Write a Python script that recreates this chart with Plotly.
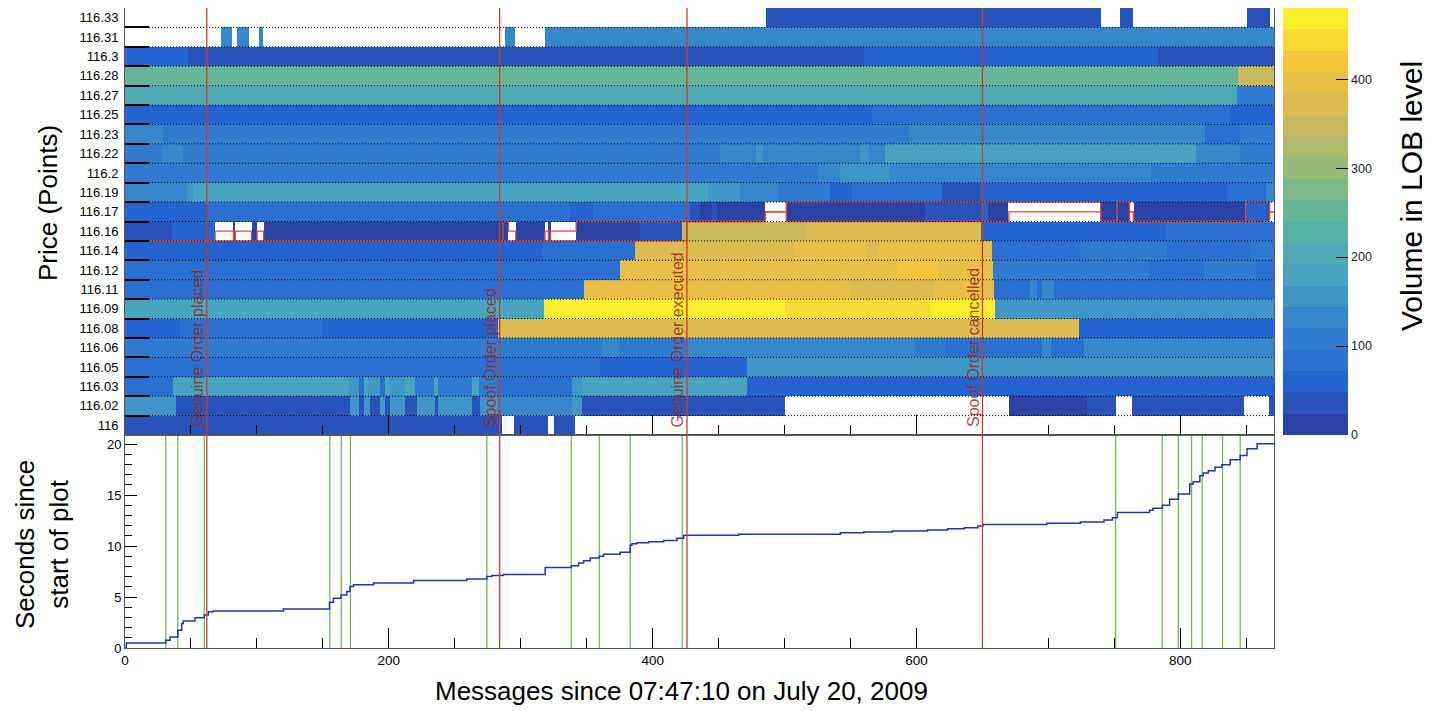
import numpy as np
import plotly.graph_objects as go
from bisect import bisect_right

# ---------------- data ----------------
price_labels = ["116", "116.02", "116.03", "116.05", "116.06", "116.08", "116.09",
                "116.11", "116.12", "116.14", "116.16", "116.17", "116.19", "116.2",
                "116.22", "116.23", "116.25", "116.27", "116.28", "116.3", "116.31", "116.33"]
N_MSG = 871

# volume per price level: (first message, volume) ; None = empty level
lvl_11600 = [(0, 40), (285.7, None), (294.5, 40), (321, None), (324.9, 40), (341.3, None)]
lvl_11602 = [(0, 150), (38.6, 40), (170.6, 150), (177.7, 40), (181.5, 150), (186, 40), (193.4, 150),
             (197.2, 40), (201, 150), (212.4, 40), (221.2, 150), (235.1, 40), (237.6, 150), (263, 40),
             (269, 150), (282, 130), (338.8, 150), (346.4, 40), (500.6, None), (670, 12), (729.4, 40),
             (750.9, None), (763.6, 40), (848.2, None), (867, 40)]
lvl_11603 = [(0, 85), (36.6, 180), (170.1, 150), (177.7, 90), (181.5, 180), (184.5, 150), (193.4, 90),
             (197.2, 180), (201, 150), (212.4, 180), (220, 105), (234, 180), (237.6, 105), (263, 180),
             (268, 105), (282, 85), (338.8, 150), (346.4, 180), (471.5, 62)]
lvl_11605 = [(0, 85), (360, 60), (471.5, 150)]
lvl_11606 = [(0, 105), (361.5, 120), (374.2, 105), (426, 120), (599, 105), (621.6, 80), (695.2, 120),
             (701.6, 90), (726.8, 125)]
lvl_11608 = [(0, 62), (41.7, 80), (149.2, 62), (283.1, 365), (723, 62)]
lvl_11609 = [(0, 190), (41.7, 168), (244, 180), (317.3, 465), (500.6, 440), (610.5, 475), (659.8, 150),
             (715, 165), (728, 150)]
lvl_11611 = [(0, 85), (347.6, 390), (550, 368), (613, 395), (658.5, 80), (686.4, 120), (691.5, 80),
             (695.2, 120), (704, 88)]
lvl_11612 = [(0, 85), (375.4, 395), (585.3, 425), (616.1, 405), (658.1, 105), (776.1, 80), (817.8, 105),
             (857, 80)]
lvl_11614 = [(0, 62), (316, 84), (386.8, 365), (506.9, 395), (562.5, 370), (571.3, 405), (657.3, 80),
             (724.3, 100), (790, 80), (853.2, 100)]
lvl_11616 = [(0, 40), (35.5, 62), (68.3, None), (82.2, 12), (83.6, None), (95.9, 12), (100.1, None),
             (105.1, 12), (290.7, None), (296.2, 12), (318.3, None), (321, 12), (322.6, None), (342, 12),
             (390.6, 40), (422.2, 350), (517, 370), (649, 62), (789, 80)]
lvl_11617 = [(0, 62), (62, 88), (337.5, 62), (355, 85), (426, 88), (428.5, 40), (436, 12), (445, 40),
             (448.7, 12), (485.4, None), (501.3, 12), (606.7, 40), (649.7, 62), (654.5, 12), (669.7, None),
             (739.5, 12), (761.5, None), (764.5, 12), (849.5, 62), (864.6, 40), (867.7, None)]
lvl_11619 = [(0, 130), (46.8, 150), (51.3, 175), (442, 150), (466, 125), (495, 105), (534.7, 62),
             (551, 80), (619, 40), (648.5, 62), (835.5, 84), (864.6, 125)]
lvl_11620 = [(0, 105), (525.6, 125), (542.3, 150), (580, 125), (777.4, 105)]
lvl_11622 = [(0, 105), (27.8, 125), (43.8, 105), (451, 130), (478, 150), (484, 140), (557.5, 165),
             (564, 140), (576, 175), (811.5, 130), (845.6, 105)]
lvl_11623 = [(0, 125), (29, 105), (509, 118), (594, 125), (819, 84), (845.6, 105)]
lvl_11625 = [(0, 62), (566, 76), (838, 55)]
lvl_11627 = [(0, 215), (843, 105)]
lvl_11628 = [(0, 245), (844, 350)]
lvl_11630 = [(0, 60), (48, 40), (560, 60), (782.7, 40)]
lvl_11631 = [(0, None), (72.6, 125), (80.9, None), (84.7, 125), (94.3, None), (101.9, 125), (104.9, None),
             (288.2, 125), (295.8, None), (318.5, 125)]
lvl_11633 = [(0, None), (485.9, 40), (739.7, None), (753.9, 40), (764.2, None), (850.2, 40), (867.7, None)]

# best bid / best ask outline (message, level index)
bid_msg = [0, 426, 485.5, 501.3, 670, 739.6, 761.5, 764.5, 867.7, 871]
bid_lvl = [9.5, 10.5, 11.0, 10.5, 11.0, 10.5, 11.0, 10.5, 11.0, 11.0]
ask_msg = [0, 68.3, 82.2, 83.6, 95.9, 100.1, 105.1, 286.5, 290.7, 296.2, 318.3, 321, 322.6, 342,
           485.5, 501.3, 739.6, 752, 761.5, 764.5, 849.5, 867.7, 871]
ask_lvl = [9.5, 10.0, 9.5, 10.0, 9.5, 10.0, 9.5, 10.5, 10.0, 9.5, 10.0, 9.5, 10.0, 10.5,
           11.0, 11.5, 10.5, 11.5, 11.0, 10.5, 11.5, 11.0, 11.0]

# events
event_msgs = [62, 284, 426, 650]
event_labels = ["Genuine Order placed", "Spoof Order placed", "Genuine Order executed", "Spoof Order cancelled"]
trade_msgs = [30.9, 40.0, 60.1, 155.3, 164.0, 170.9, 274.3, 338.3, 359.5, 383.0, 422.4,
              750.9, 786.3, 798.5, 808.5, 816.6, 832.0, 845.4]

# elapsed seconds vs message
time_msg = [0, 1, 30.9, 34.2, 40, 43, 44.2, 53.1, 60.1, 63.2, 67, 120.1, 155, 158, 163.8, 168.1, 170.6,
            173.2, 188.4, 218.7, 259.1, 274.3, 278.1, 286.9, 318.5, 338.3, 343.8, 347.6, 352.7, 359.5,
            362.8, 375.4, 383.0, 384.3, 388.1, 396.9, 408.3, 418.4, 423.5, 465.2, 542.3, 560, 581.6,
            608.3, 623.6, 636.3, 646.6, 650.4, 698.8, 724.3, 742.1, 748.5, 752.3, 776.6, 779.2, 786.3,
            791.9, 798.5, 807.1, 809.7, 814.8, 817.4, 821.2, 826.3, 831.4, 837.8, 845.4, 850.5, 858.2, 871]
time_sec = [0, 0.5, 0.76, 1.09, 1.75, 2.4, 2.64, 2.97, 3.23, 3.56, 3.63, 3.83, 4.49, 4.88, 5.2, 5.54, 6.03,
            6.2, 6.37, 6.63, 6.77, 7.02, 7.12, 7.22, 7.91, 8.08, 8.34, 8.57, 8.84, 9.0,
            9.2, 9.4, 10.08, 10.22, 10.32, 10.42, 10.55, 10.78, 11.07, 11.17, 11.31, 11.37, 11.47,
            11.57, 11.7, 11.8, 11.96, 12.13, 12.23, 12.36, 12.56, 12.79, 13.29, 13.51, 13.71, 14.01,
            14.6, 15.1, 16.09, 16.31, 16.9, 17.17, 17.4, 17.73, 17.99, 18.46, 18.89, 19.55, 20.04, 20.04]

# ---------------- build heatmap grid ----------------
levels = [lvl_11600, lvl_11602, lvl_11603, lvl_11605, lvl_11606, lvl_11608, lvl_11609, lvl_11611,
          lvl_11612, lvl_11614, lvl_11616, lvl_11617, lvl_11619, lvl_11620, lvl_11622, lvl_11623,
          lvl_11625, lvl_11627, lvl_11628, lvl_11630, lvl_11631, lvl_11633]
edges = sorted(set([0, N_MSG] + [s for lv in levels for s, _ in lv]))
z = []
for lv in levels:
    starts = [s for s, _ in lv]
    vals = [v for _, v in lv]
    z.append([vals[bisect_right(starts, a) - 1] for a in edges[:-1]])

# bird-like palette (as rendered in the reference), 20 contour levels
st = [0, .125, .25, .375, .5, .625, .75, .875, 1]
rr = [43, 37, 51, 72, 90, 150, 212, 245, 249]
gg = [58, 99, 128, 164, 180, 186, 184, 198, 248]
bb = [155, 208, 208, 192, 160, 120, 88, 60, 40]
NB = 20
cscale = []
for i in range(NB):
    f = (i + 0.5) / NB
    c = "rgb(%d,%d,%d)" % tuple(int(round(np.interp(f, st, ch))) for ch in (rr, gg, bb))
    cscale += [[i / NB, c], [(i + 1) / NB, c]]

FONT = "Liberation Sans, Arial, Helvetica, sans-serif"
fig = go.Figure()

fig.add_trace(go.Heatmap(
    x=edges, y=list(range(len(price_labels))), z=z, zmin=0, zmax=480,
    colorscale=cscale, hoverongaps=False, xaxis="x", yaxis="y",
    colorbar=dict(x=1.0078, xanchor="left", thickness=65, thicknessmode="pixels",
                  len=427, lenmode="pixels", y=1, yanchor="top", outlinewidth=0,
                  tickvals=[0, 100, 200, 300, 400], ticks="inside", ticklen=12,
                  tickcolor="black", tickfont=dict(size=12.5, color="#222", family=FONT),
                  xpad=0, ypad=0)))

for xs, ys in ((bid_msg, bid_lvl), (ask_msg, ask_lvl)):
    fig.add_trace(go.Scatter(x=xs, y=ys, mode="lines", line=dict(color="#e04838", width=1.3, shape="hv"),
                             xaxis="x", yaxis="y", showlegend=False, hoverinfo="skip"))

fig.add_trace(go.Scatter(x=time_msg, y=time_sec, mode="lines", line=dict(color="#2234a8", width=1.5, shape="hv"),
                         xaxis="x2", yaxis="y2", showlegend=False))

split = 213 / 640
shapes = []
for b in np.arange(0.5, len(price_labels) - 1, 1.0):
    shapes.append(dict(type="line", xref="x domain", x0=0, x1=1, yref="y", y0=b, y1=b,
                       line=dict(color="black", width=1, dash="1px,2px"), layer="above"))
for m in trade_msgs:
    shapes.append(dict(type="line", xref="x2", x0=m, x1=m, yref="y2 domain", y0=0, y1=1,
                       line=dict(color="#74bb56", width=1.3), layer="below"))
for m in event_msgs:
    shapes.append(dict(type="line", xref="x", x0=m, x1=m, yref="paper", y0=0, y1=1,
                       line=dict(color="#cc3b2b", width=1.3), layer="above"))

annotations = []
for m, t in zip(event_msgs, event_labels):
    annotations.append(dict(x=m, xref="x", y=-0.5, yref="y", text=t, textangle=-90, showarrow=False,
                            xanchor="center", yanchor="bottom", xshift=-9, yshift=6,
                            font=dict(size=16, color="rgba(160,38,28,0.85)", family=FONT)))
annotations += [
    dict(text="Price (Points)", xref="paper", yref="paper", x=0, y=(648 - 203) / 640, xshift=-77,
         xanchor="center", yanchor="middle",
         textangle=-90, showarrow=False, font=dict(size=26, color="black", family=FONT)),
    dict(text="Seconds since<br>start of plot", xref="paper", yref="paper", x=0, y=(648 - 545) / 640,
         xshift=-83, xanchor="center", yanchor="middle",
         textangle=-90, showarrow=False, font=dict(size=26, color="black", family=FONT)),
    dict(text="Messages since 07:47:10 on July 20, 2009", xref="paper", yref="paper", x=(681 - 125) / 1149,
         y=0, yshift=-43, xanchor="center", yanchor="middle", showarrow=False,
         font=dict(size=26, color="black", family=FONT)),
    dict(text="Volume in LOB level", xref="paper", yref="paper", x=(1412 - 125) / 1149, y=(648 - 196) / 640,
         xanchor="center", yanchor="middle",
         textangle=-90, showarrow=False, font=dict(size=30, color="black", family=FONT)),
]

# page body has an 8px margin, so the figure is 8px smaller and its margins compensate
fig.update_layout(
    width=1422, height=703, margin=dict(l=117, r=156, t=0, b=63),
    paper_bgcolor="white", plot_bgcolor="white", showlegend=False,
    font=dict(family=FONT, size=12, color="black"),
    xaxis=dict(domain=[0, 1], anchor="y", range=[0, N_MSG], showticklabels=False,
               ticks="inside", tickvals=[0, 200, 400, 600, 800], ticklen=20, tickcolor="black",
               minor=dict(dtick=50, tick0=0, ticks="inside", ticklen=10, tickcolor="black"),
               showgrid=False, zeroline=False, showline=True, linecolor="#555", mirror=True,
               layer="above traces"),
    yaxis=dict(domain=[split, 1], anchor="x", range=[-0.5, len(price_labels) - 0.5],
               tickvals=list(range(len(price_labels))), ticktext=price_labels, ticks="",
               tickfont=dict(size=13), showgrid=False, zeroline=False, ticklabelstandoff=3,
               minor=dict(tickvals=list(np.arange(0.5, len(price_labels) - 1, 1.0)), ticks="inside",
                          ticklen=24, tickcolor="black", tickwidth=1.5),
               showline=True, linecolor="#555", mirror=True, layer="above traces"),
    xaxis2=dict(domain=[0, 1], anchor="y2", range=[0, N_MSG], matches="x",
                ticks="inside", tickvals=[0, 200, 400, 600, 800], ticklen=20, tickcolor="black",
                tickfont=dict(size=13.5),
                minor=dict(dtick=50, tick0=0, ticks="inside", ticklen=10, tickcolor="black"),
                showgrid=False, zeroline=False, showline=True, linecolor="#555", mirror=True),
    yaxis2=dict(domain=[0, split], anchor="x2", range=[0, 20.9], tickvals=[0, 5, 10, 15, 20],
                ticks="inside", ticklen=12, tickcolor="black", tickfont=dict(size=13),
                minor=dict(dtick=1, tick0=0, ticks="inside", ticklen=7, tickcolor="black"),
                showgrid=False, zeroline=False, showline=True, linecolor="#555", mirror=True),
    shapes=shapes, annotations=annotations,
)

fig.write_html("out.html")
